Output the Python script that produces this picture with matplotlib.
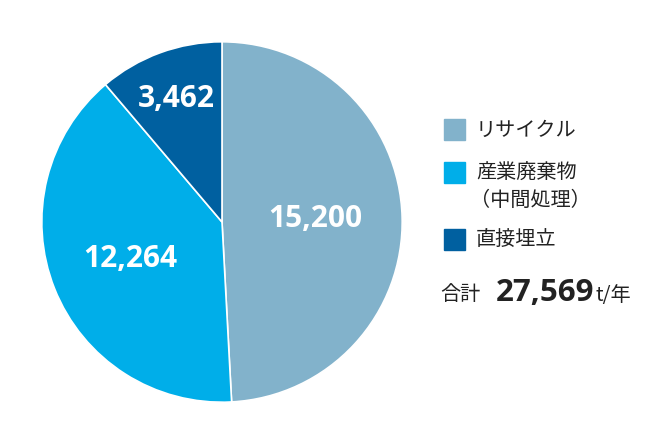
import numpy as np
import matplotlib
matplotlib.use('Agg')
import matplotlib.pyplot as plt
from matplotlib.patches import Rectangle

# ── Données ───────────────────────────────────────────────────
categories = ['リサイクル', '産業廃棄物\n（中間処理）', '直接埋立']
values     = [15200, 12264, 3462]
value_txt  = ['15,200', '12,264', '3,462']
colors     = ['#82b2cb', '#00aee9', '#0060a0']
total_txt  = '27,569'

plt.rcParams['font.family'] = ['Noto Sans CJK JP', 'DejaVu Sans']

W, H = 658, 440
fig = plt.figure(figsize=(W / 100, H / 100), dpi=100)

# ── Camembert ─────────────────────────────────────────────────
ax = fig.add_axes([40 / W, (H - 404) / H, 364 / W, 364 / H])
wedges, _ = ax.pie(values, colors=colors, startangle=90, counterclock=False,
                   wedgeprops=dict(edgecolor='white', linewidth=1.2))
ax.set_xlim(-1.01, 1.01)
ax.set_ylim(-1.01, 1.01)
ax.set_aspect('equal')

label_r = [0.52, 0.55, 0.73]
for w, txt, r in zip(wedges, value_txt, label_r):
    mid = np.deg2rad((w.theta1 + w.theta2) / 2)
    ax.text(r * np.cos(mid), r * np.sin(mid), txt, ha='center', va='center',
            color='white', fontsize=21.5, fontweight='bold', family='Open Sans')

# ── Légende ───────────────────────────────────────────────────
lx = fig.add_axes([0, 0, 1, 1])
lx.set_xlim(0, W)
lx.set_ylim(H, 0)
lx.axis('off')

ys = [129, 172, 239]
for y, c, lab in zip(ys, colors, categories):
    lx.add_patch(Rectangle((444, y - 10), 21, 21, color=c))
    first = lab.split('\n')[0]
    lx.text(476, y + 1, first, ha='left', va='center', fontsize=14.5, color='#222222')
    if '\n' in lab:
        lx.text(470, y + 28, lab.split('\n')[1], ha='left', va='center',
                fontsize=14.5, color='#222222')

lx.text(440, 294, '合計', ha='left', va='center', fontsize=14.5, color='#222222')
tot = lx.text(496, 293, total_txt, ha='left', va='center', fontsize=22.5,
              fontweight='bold', family='Open Sans', color='#222222')

# t/年 collé au nombre
fig.canvas.draw()
bb = tot.get_window_extent()
x_end = bb.x1  # pixels depuis la gauche
lx.text(x_end + 1, 295, 't/年', ha='left', va='center', fontsize=14.5, color='#222222')

fig.savefig('out.png', dpi=100)
